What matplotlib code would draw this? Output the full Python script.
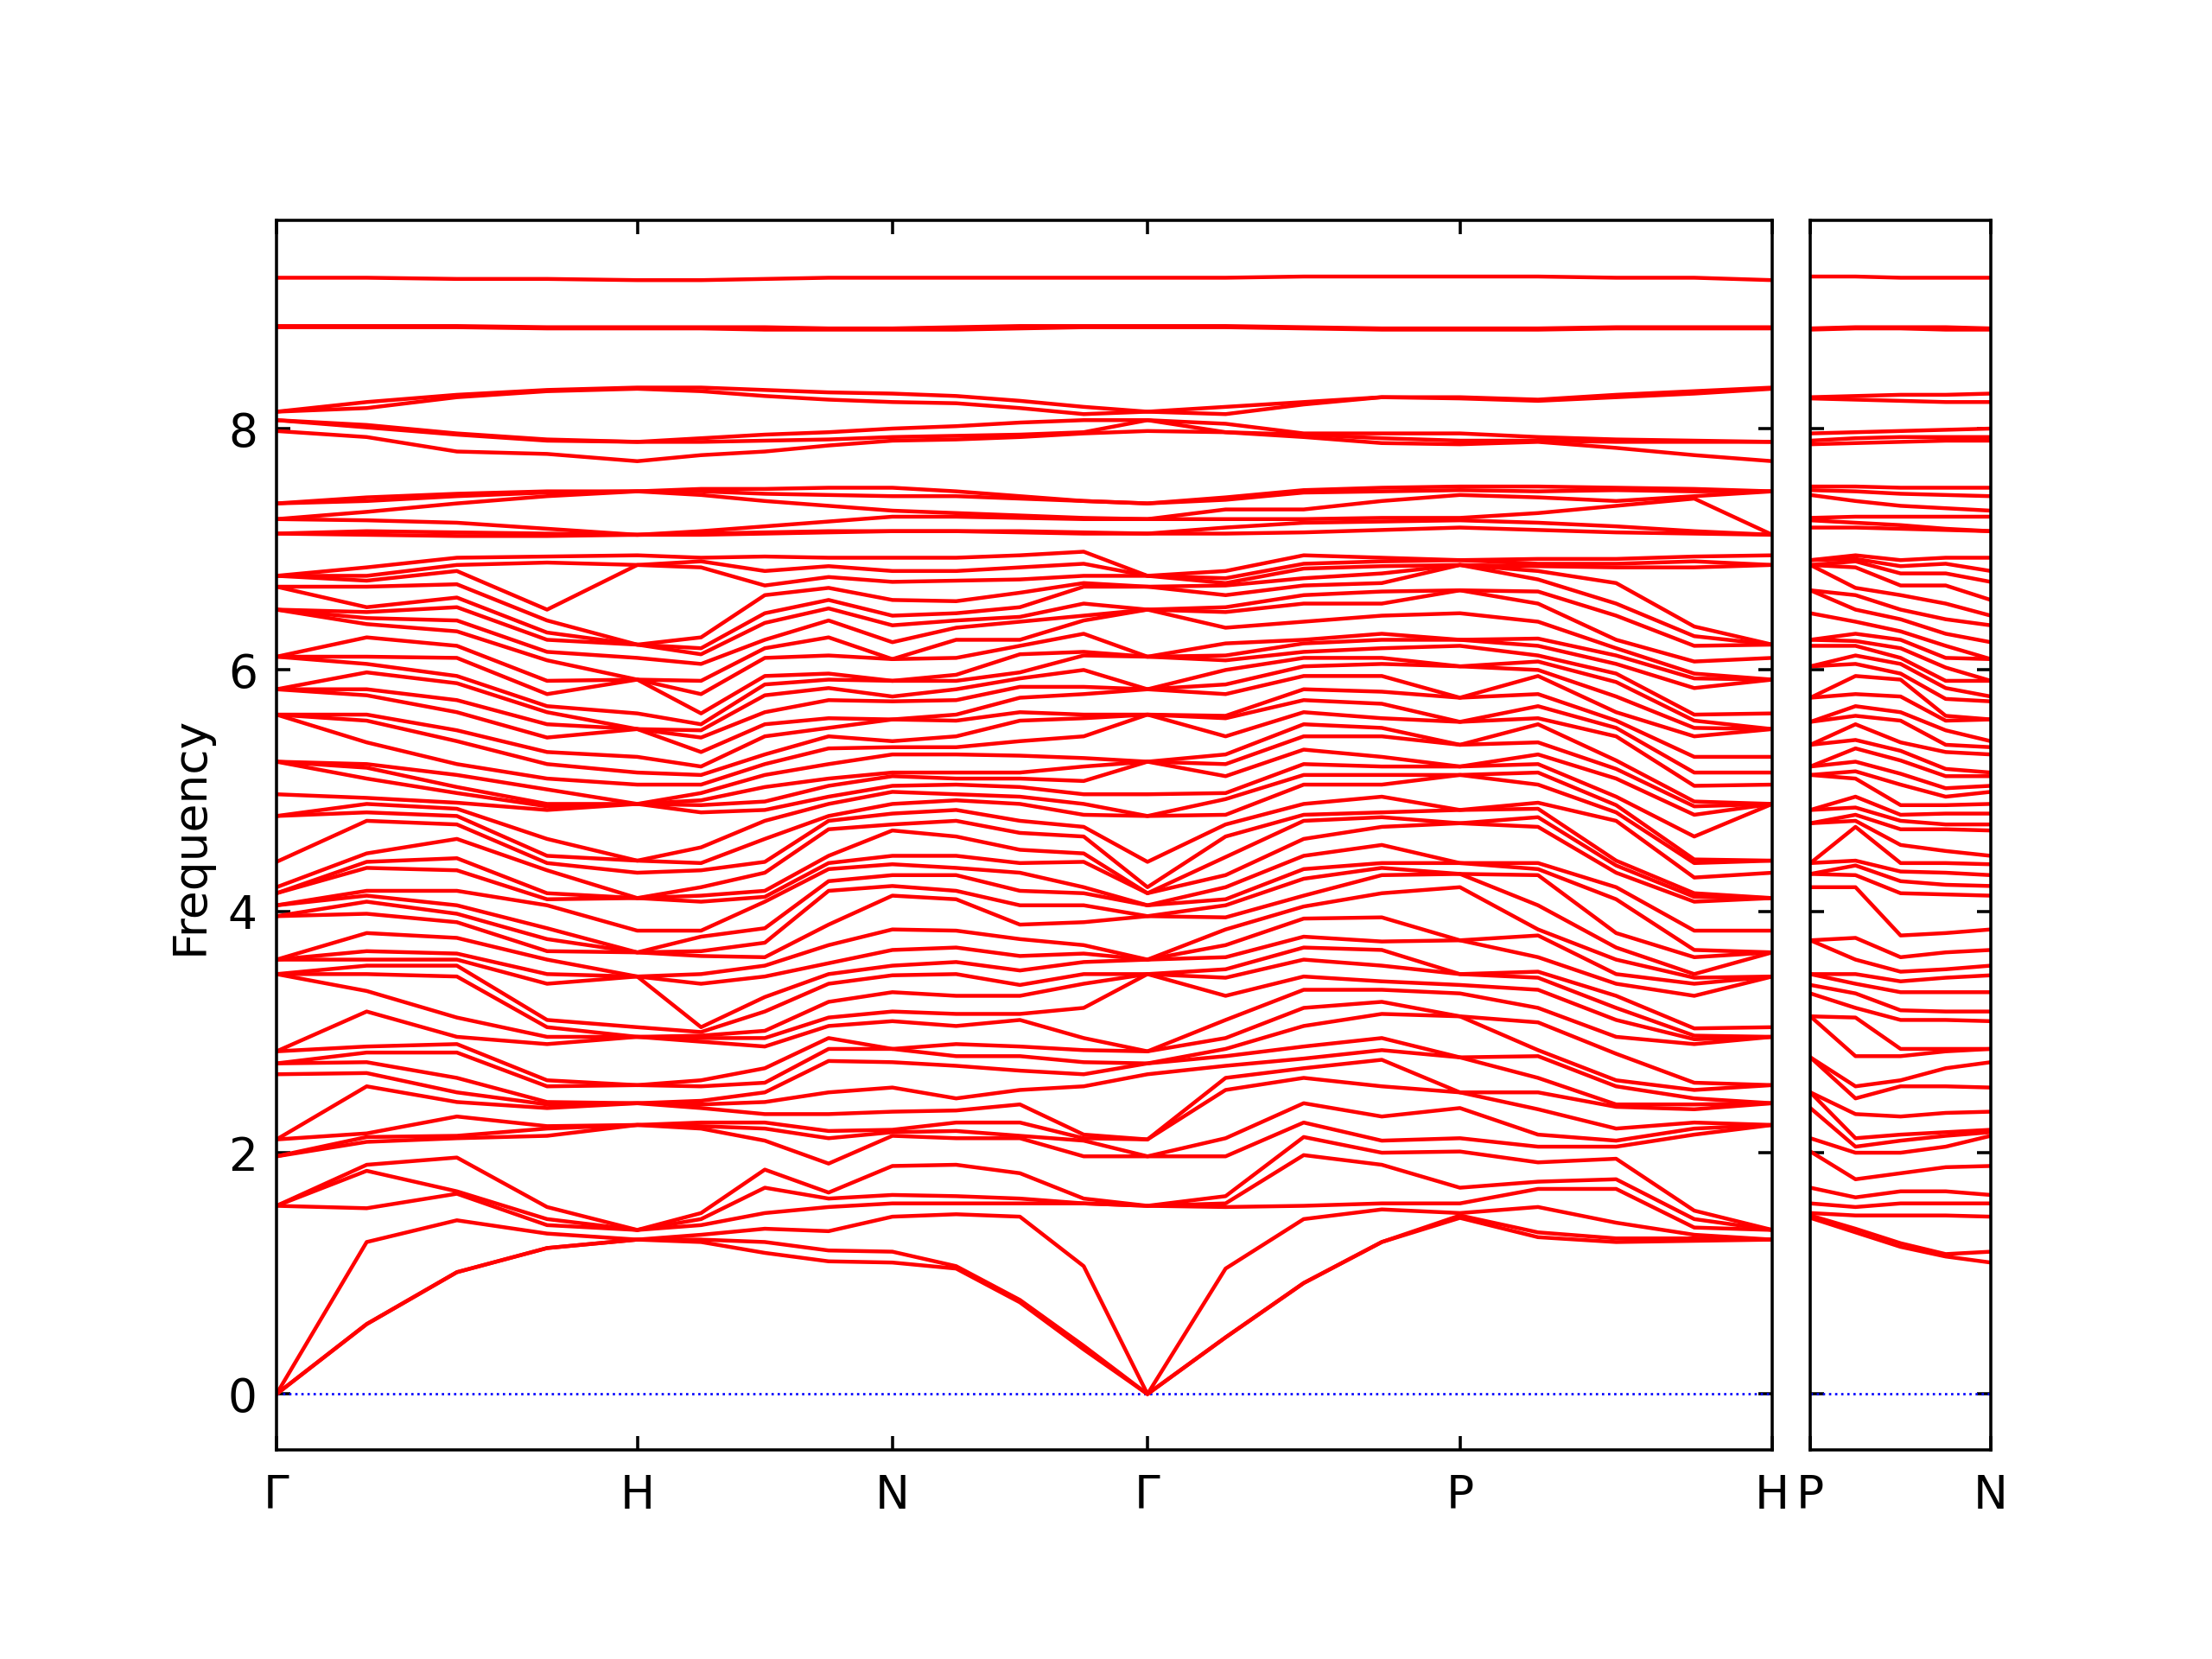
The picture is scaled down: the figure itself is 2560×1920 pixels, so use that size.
import numpy as np
import matplotlib
matplotlib.use("Agg")
import matplotlib.pyplot as plt

# phonon bands: sorted frequencies read at 5 points per path segment
# (66 branches; lower 52 and upper 14 listed separately for each column)

G_pt = [0, 0, 0, 1.56, 1.56, 1.56, 1.97, 1.97, 2.11, 2.11, 2.65, 2.74, 2.74, 2.84, 2.84,
        3.48, 3.48, 3.48, 3.60, 3.60, 3.60, 3.96, 3.96, 4.05, 4.05, 4.15, 4.15, 4.20, 4.41,
        4.79, 4.79, 4.97, 5.24, 5.24, 5.24, 5.63, 5.63, 5.63, 5.84, 5.84, 5.84, 6.11, 6.11, 6.11,
        6.50, 6.50, 6.50, 6.69, 6.69, 6.78, 6.78, 6.78] + \
       [7.13, 7.13, 7.25, 7.25, 7.38, 7.38, 7.98, 8.07, 8.07, 8.14, 8.14, 8.84, 8.85, 9.25]

H_pt = [1.28, 1.28, 1.28, 1.36, 1.36, 1.36, 2.23, 2.23, 2.23, 2.41, 2.41, 2.41, 2.56, 2.56,
        2.96, 2.96, 2.96, 3.04, 3.46, 3.46, 3.46, 3.66, 3.66, 3.66, 3.84, 4.11, 4.11, 4.11, 4.32,
        4.42, 4.42, 4.89, 4.89, 4.89, 4.89, 5.05, 5.15, 5.28, 5.51, 5.51, 5.51, 5.64, 5.92, 5.92,
        5.92, 6.10, 6.21, 6.21, 6.21, 6.87, 6.87, 6.95] + \
       [7.12, 7.12, 7.12, 7.48, 7.48, 7.48, 7.73, 7.89, 7.89, 8.33, 8.34, 8.83, 8.84, 9.23]

N_pt = [1.09, 1.18, 1.47, 1.58, 1.65, 1.89, 2.14, 2.17, 2.19, 2.34, 2.54, 2.75, 2.86, 2.86,
        3.09, 3.17, 3.33, 3.47, 3.55, 3.68, 3.85, 4.13, 4.21, 4.30, 4.39, 4.46, 4.67, 4.72, 4.81,
        4.89, 4.99, 5.04, 5.12, 5.15, 5.30, 5.36, 5.41, 5.59, 5.59, 5.74, 5.78, 5.91, 5.91, 6.09,
        6.09, 6.23, 6.37, 6.45, 6.58, 6.73, 6.82, 6.93] + \
       [7.15, 7.15, 7.27, 7.32, 7.44, 7.51, 7.90, 7.93, 8.00, 8.22, 8.29, 8.82, 8.83, 9.25]

P_pt = [1.46, 1.48, 1.50, 1.58, 1.71, 2.01, 2.12, 2.37, 2.50, 2.50, 2.79, 2.79,
        3.13, 3.13, 3.32, 3.39, 3.48, 3.48, 3.76, 3.76, 4.20, 4.31, 4.31, 4.40, 4.40, 4.73, 4.73,
        4.84, 4.84, 5.13, 5.13, 5.20, 5.20, 5.38, 5.38, 5.57, 5.57, 5.77, 5.77, 6.03, 6.03, 6.20,
        6.25, 6.25, 6.47, 6.66, 6.66, 6.87, 6.87, 6.87, 6.91, 6.91] + \
       [7.18, 7.24, 7.26, 7.45, 7.49, 7.52, 7.87, 7.90, 7.96, 8.25, 8.26, 8.82, 8.83, 9.26]

GH_mid = [
    [0.58, 0.58, 1.26, 1.54, 1.85, 1.90, 2.09, 2.13, 2.16, 2.55, 2.66, 2.75, 2.83, 2.88, 3.17, 3.34,
     3.48, 3.55, 3.60, 3.67, 3.82, 3.98, 4.08, 4.13, 4.17, 4.36, 4.41, 4.48, 4.75, 4.82, 4.89, 4.94,
     5.10, 5.19, 5.22, 5.40, 5.58, 5.63, 5.79, 5.84, 5.98, 6.05, 6.11, 6.27, 6.38, 6.43, 6.48, 6.52,
     6.69, 6.74, 6.78, 6.85] +
    [7.12, 7.15, 7.24, 7.31, 7.40, 7.43, 7.93, 8.01, 8.03, 8.17, 8.22, 8.84, 8.85, 9.25],
    [1.01, 1.01, 1.44, 1.66, 1.68, 1.96, 2.12, 2.14, 2.30, 2.42, 2.50, 2.62, 2.83, 2.90, 2.96,
     3.12, 3.46, 3.55, 3.60, 3.65, 3.78, 3.91, 3.98, 4.05, 4.17, 4.34, 4.44, 4.60, 4.72, 4.79,
     4.85, 4.90, 4.98, 5.03, 5.13, 5.22, 5.41, 5.50, 5.65, 5.75, 5.89, 5.95, 6.10, 6.20, 6.32,
     6.41, 6.52, 6.60, 6.71, 6.82, 6.87, 6.93] +
    [7.11, 7.14, 7.22, 7.38, 7.44, 7.46, 7.81, 7.95, 7.96, 8.26, 8.28, 8.84, 8.85, 9.24],
    [1.21, 1.21, 1.33, 1.40, 1.45, 1.55, 2.14, 2.20, 2.22, 2.37, 2.40, 2.42, 2.55, 2.60, 2.90,
     2.96, 3.04, 3.10, 3.40, 3.48, 3.60, 3.67, 3.77, 3.86, 4.05, 4.10, 4.15, 4.34, 4.40, 4.46,
     4.60, 4.84, 4.87, 4.89, 5.01, 5.10, 5.22, 5.32, 5.44, 5.55, 5.65, 5.70, 5.80, 5.91, 6.08,
     6.15, 6.25, 6.31, 6.41, 6.50, 6.89, 6.94] +
    [7.11, 7.13, 7.17, 7.44, 7.47, 7.48, 7.79, 7.90, 7.91, 8.31, 8.32, 8.83, 8.84, 9.24],
]

HN_mid = [
    [1.26, 1.28, 1.32, 1.40, 1.45, 1.50, 2.20, 2.22, 2.25, 2.37, 2.40, 2.43, 2.55, 2.60, 2.92,
     2.95, 2.97, 3.00, 3.04, 3.40, 3.48, 3.63, 3.67, 3.79, 3.84, 4.08, 4.13, 4.20, 4.34, 4.40,
     4.53, 4.82, 4.88, 4.92, 4.98, 5.05, 5.13, 5.20, 5.32, 5.44, 5.50, 5.55, 5.64, 5.80, 5.91,
     6.05, 6.13, 6.18, 6.27, 6.85, 6.90, 6.93] +
    [7.12, 7.13, 7.15, 7.45, 7.48, 7.50, 7.78, 7.89, 7.92, 8.31, 8.34, 8.83, 8.84, 9.23],
    [1.17, 1.26, 1.37, 1.50, 1.71, 1.86, 2.10, 2.20, 2.25, 2.32, 2.42, 2.50, 2.58, 2.70, 2.88,
     2.95, 3.01, 3.17, 3.29, 3.46, 3.55, 3.62, 3.74, 3.86, 4.08, 4.12, 4.17, 4.32, 4.41, 4.60,
     4.75, 4.84, 4.91, 5.03, 5.13, 5.22, 5.30, 5.45, 5.55, 5.65, 5.79, 5.88, 5.95, 6.10, 6.18,
     6.25, 6.39, 6.47, 6.62, 6.70, 6.82, 6.94] +
    [7.13, 7.14, 7.19, 7.40, 7.46, 7.50, 7.81, 7.90, 7.95, 8.27, 8.32, 8.82, 8.84, 9.24],
    [1.10, 1.19, 1.35, 1.55, 1.62, 1.67, 1.91, 2.12, 2.18, 2.32, 2.50, 2.76, 2.86, 2.95, 3.05,
     3.12, 3.25, 3.40, 3.48, 3.57, 3.72, 3.89, 4.17, 4.25, 4.35, 4.40, 4.46, 4.68, 4.75, 4.79,
     4.89, 4.95, 5.04, 5.10, 5.22, 5.35, 5.45, 5.52, 5.60, 5.75, 5.85, 5.92, 5.97, 6.12, 6.27,
     6.41, 6.51, 6.58, 6.68, 6.77, 6.86, 6.93] +
    [7.14, 7.15, 7.23, 7.36, 7.45, 7.51, 7.86, 7.91, 7.97, 8.24, 8.30, 8.82, 8.83, 9.25],
]

NG_mid = [
    [1.04, 1.06, 1.49, 1.58, 1.64, 1.90, 2.12, 2.18, 2.25, 2.35, 2.45, 2.72, 2.80, 2.90, 3.05,
     3.15, 3.30, 3.48, 3.58, 3.70, 3.84, 4.10, 4.17, 4.30, 4.36, 4.46, 4.62, 4.75, 4.84, 4.92,
     4.97, 5.05, 5.10, 5.15, 5.30, 5.36, 5.45, 5.58, 5.63, 5.75, 5.84, 5.91, 5.96, 6.10, 6.25,
     6.35, 6.41, 6.47, 6.57, 6.74, 6.82, 6.93] +
    [7.15, 7.15, 7.27, 7.30, 7.44, 7.48, 7.91, 7.94, 8.02, 8.21, 8.27, 8.82, 8.84, 9.25],
    [0.76, 0.78, 1.47, 1.58, 1.62, 1.83, 2.12, 2.14, 2.25, 2.40, 2.52, 2.68, 2.80, 2.88, 3.10,
     3.15, 3.30, 3.39, 3.51, 3.63, 3.77, 3.89, 4.05, 4.17, 4.32, 4.40, 4.51, 4.65, 4.75, 4.89,
     4.95, 5.03, 5.10, 5.15, 5.29, 5.41, 5.58, 5.65, 5.77, 5.86, 5.93, 5.98, 6.13, 6.20, 6.25,
     6.40, 6.44, 6.52, 6.64, 6.75, 6.85, 6.95] +
    [7.14, 7.15, 7.26, 7.28, 7.42, 7.44, 7.93, 7.95, 8.05, 8.17, 8.23, 8.83, 8.85, 9.25],
    [0.37, 0.40, 1.06, 1.58, 1.58, 1.62, 1.97, 2.10, 2.12, 2.15, 2.55, 2.65, 2.75, 2.85, 2.95,
     3.20, 3.40, 3.48, 3.58, 3.65, 3.72, 3.91, 4.05, 4.15, 4.20, 4.41, 4.48, 4.62, 4.70, 4.80,
     4.89, 4.97, 5.08, 5.20, 5.27, 5.45, 5.60, 5.63, 5.80, 5.86, 6.00, 6.12, 6.15, 6.30, 6.41,
     6.45, 6.55, 6.69, 6.72, 6.78, 6.88, 6.98] +
    [7.13, 7.14, 7.25, 7.26, 7.40, 7.40, 7.96, 7.97, 8.07, 8.12, 8.18, 8.84, 8.85, 9.25],
]

GP_mid = [
    [0.47, 0.47, 1.04, 1.55, 1.58, 1.64, 1.97, 2.12, 2.52, 2.62, 2.72, 2.80, 2.86, 2.95, 3.10,
     3.30, 3.45, 3.52, 3.62, 3.72, 3.85, 3.95, 4.05, 4.10, 4.20, 4.30, 4.45, 4.62, 4.72, 4.80,
     4.93, 4.98, 5.12, 5.22, 5.30, 5.45, 5.60, 5.62, 5.80, 5.88, 6.00, 6.08, 6.12, 6.22, 6.35,
     6.48, 6.52, 6.62, 6.70, 6.72, 6.76, 6.82] +
    [7.13, 7.18, 7.25, 7.33, 7.41, 7.43, 7.97, 7.97, 8.04, 8.12, 8.18, 8.84, 8.85, 9.25],
    [0.92, 0.92, 1.45, 1.56, 1.98, 2.13, 2.25, 2.41, 2.62, 2.70, 2.78, 2.88, 3.05, 3.20, 3.35,
     3.46, 3.60, 3.70, 3.79, 3.94, 4.04, 4.13, 4.27, 4.35, 4.46, 4.60, 4.75, 4.80, 4.89, 5.05,
     5.13, 5.22, 5.34, 5.45, 5.55, 5.65, 5.75, 5.84, 5.95, 6.03, 6.10, 6.15, 6.22, 6.25, 6.40,
     6.55, 6.62, 6.70, 6.76, 6.84, 6.88, 6.95] +
    [7.14, 7.22, 7.25, 7.33, 7.47, 7.49, 7.93, 7.95, 7.96, 8.20, 8.22, 8.83, 8.84, 9.26],
    [1.26, 1.26, 1.53, 1.58, 1.90, 2.00, 2.10, 2.30, 2.55, 2.77, 2.85, 2.95, 3.15, 3.25, 3.35,
     3.42, 3.55, 3.68, 3.75, 3.95, 4.15, 4.30, 4.36, 4.40, 4.55, 4.70, 4.78, 4.82, 4.95, 5.05,
     5.13, 5.20, 5.28, 5.45, 5.52, 5.60, 5.72, 5.82, 5.95, 6.05, 6.10, 6.18, 6.25, 6.30, 6.45,
     6.55, 6.65, 6.72, 6.80, 6.86, 6.90, 6.93] +
    [7.16, 7.23, 7.26, 7.40, 7.48, 7.51, 7.88, 7.92, 7.96, 8.26, 8.26, 8.82, 8.83, 9.26],
]

PH_mid = [
    [1.30, 1.34, 1.55, 1.70, 1.76, 1.92, 2.05, 2.15, 2.36, 2.50, 2.62, 2.80, 2.85, 3.08, 3.20,
     3.35, 3.45, 3.50, 3.62, 3.80, 3.85, 4.05, 4.30, 4.35, 4.40, 4.70, 4.78, 4.85, 4.90, 5.05,
     5.15, 5.22, 5.30, 5.40, 5.55, 5.60, 5.70, 5.80, 5.95, 6.00, 6.07, 6.12, 6.20, 6.26, 6.40,
     6.55, 6.65, 6.75, 6.82, 6.86, 6.88, 6.92] +
    [7.16, 7.22, 7.30, 7.43, 7.48, 7.52, 7.89, 7.90, 7.93, 8.23, 8.24, 8.82, 8.83, 9.26],
    [1.26, 1.29, 1.42, 1.70, 1.78, 1.95, 2.05, 2.10, 2.20, 2.38, 2.40, 2.55, 2.60, 2.82, 2.96,
     3.10, 3.20, 3.30, 3.40, 3.48, 3.60, 3.70, 3.82, 4.10, 4.20, 4.32, 4.38, 4.42, 4.75, 4.82,
     4.88, 4.95, 5.10, 5.18, 5.25, 5.45, 5.52, 5.58, 5.65, 5.78, 5.90, 5.97, 6.05, 6.12, 6.18,
     6.25, 6.45, 6.55, 6.72, 6.85, 6.88, 6.92] +
    [7.14, 7.19, 7.36, 7.40, 7.49, 7.51, 7.84, 7.89, 7.91, 8.26, 8.28, 8.83, 8.84, 9.25],
    [1.27, 1.29, 1.32, 1.38, 1.45, 1.52, 2.15, 2.20, 2.25, 2.36, 2.40, 2.45, 2.52, 2.58, 2.90,
     2.94, 2.97, 3.03, 3.30, 3.40, 3.45, 3.48, 3.62, 3.68, 3.84, 4.08, 4.12, 4.15, 4.28, 4.40,
     4.43, 4.62, 4.80, 4.87, 4.91, 5.04, 5.15, 5.28, 5.45, 5.52, 5.58, 5.63, 5.85, 5.93, 5.97,
     6.07, 6.20, 6.28, 6.36, 6.85, 6.90, 6.94] +
    [7.13, 7.15, 7.42, 7.44, 7.48, 7.50, 7.78, 7.89, 7.90, 8.29, 8.31, 8.83, 8.84, 9.25],
]

PN_mid = [
    [1.34, 1.37, 1.48, 1.55, 1.63, 1.78, 2.00, 2.05, 2.12, 2.32, 2.45, 2.55, 2.80, 3.12, 3.20,
     3.32, 3.40, 3.48, 3.60, 3.78, 4.20, 4.30, 4.38, 4.42, 4.70, 4.75, 4.80, 4.86, 4.95, 5.10,
     5.16, 5.24, 5.35, 5.42, 5.55, 5.62, 5.70, 5.80, 5.95, 6.05, 6.12, 6.20, 6.24, 6.30, 6.40,
     6.50, 6.62, 6.68, 6.85, 6.90, 6.92, 6.95] +
    [7.18, 7.22, 7.27, 7.40, 7.48, 7.52, 7.88, 7.92, 7.97, 8.24, 8.27, 8.83, 8.84, 9.26],
    [1.22, 1.25, 1.48, 1.58, 1.68, 1.83, 2.00, 2.10, 2.15, 2.30, 2.55, 2.60, 2.80, 2.86, 3.10,
     3.18, 3.33, 3.42, 3.50, 3.62, 3.80, 4.15, 4.25, 4.33, 4.40, 4.55, 4.68, 4.75, 4.80, 4.88,
     5.05, 5.14, 5.25, 5.33, 5.40, 5.58, 5.65, 5.78, 5.92, 5.97, 6.05, 6.10, 6.18, 6.25, 6.32,
     6.42, 6.50, 6.62, 6.70, 6.80, 6.86, 6.91] +
    [7.17, 7.20, 7.27, 7.36, 7.46, 7.51, 7.89, 7.93, 7.98, 8.23, 8.28, 8.83, 8.84, 9.25],
    [1.14, 1.16, 1.48, 1.58, 1.68, 1.88, 2.05, 2.14, 2.17, 2.33, 2.55, 2.70, 2.84, 2.86, 3.10,
     3.17, 3.33, 3.45, 3.52, 3.66, 3.82, 4.14, 4.22, 4.32, 4.40, 4.50, 4.68, 4.72, 4.81, 4.88,
     4.95, 5.02, 5.12, 5.18, 5.32, 5.38, 5.50, 5.58, 5.62, 5.76, 5.85, 5.91, 6.02, 6.10, 6.20,
     6.30, 6.42, 6.55, 6.70, 6.80, 6.88, 6.93] +
    [7.16, 7.17, 7.27, 7.34, 7.45, 7.51, 7.90, 7.93, 7.99, 8.22, 8.28, 8.82, 8.84, 9.25],
]

# path segments (bcc, units of 2pi/a)
seg_len = [1.0, np.sqrt(2) / 2, np.sqrt(2) / 2, np.sqrt(3) / 2, np.sqrt(3) / 2]
seg_len_pn = 0.5
labels_main = ["Γ", "H", "N", "Γ", "P", "H"]
labels_pn = ["P", "N"]

main_cols = [G_pt] + GH_mid + [H_pt] + HN_mid + [N_pt] + NG_mid + [G_pt] + GP_mid + \
            [P_pt] + PH_mid + [H_pt]
pn_cols = [P_pt] + PN_mid + [N_pt]

bands_main = np.array([np.sort(c) for c in main_cols])   # (21, nbands)
bands_pn = np.array([np.sort(c) for c in pn_cols])       # (5, nbands)

ticks_main = np.concatenate([[0], np.cumsum(seg_len)])
x_main = np.concatenate([np.linspace(ticks_main[i], ticks_main[i + 1], 5)[(0 if i == 0 else 1):]
                         for i in range(len(seg_len))])
x_pn = np.linspace(0, seg_len_pn, 5)

fmin = min(bands_main.min(), bands_pn.min())
fmax = max(bands_main.max(), bands_pn.max())
pad = 0.05 * (fmax - fmin)

fig = plt.figure(figsize=(8, 6), dpi=320)
gs = fig.add_gridspec(1, 2, width_ratios=[ticks_main[-1], seg_len_pn], wspace=0.0454,
                      left=0.125, right=0.9, bottom=0.126, top=0.867)
ax1 = fig.add_subplot(gs[0])
ax2 = fig.add_subplot(gs[1])

for ax, x, bands, ticks, labs in [(ax1, x_main, bands_main, ticks_main, labels_main),
                                  (ax2, x_pn, bands_pn, [0, seg_len_pn], labels_pn)]:
    ax.axhline(0, color="blue", ls=":", lw=0.6)
    for i in range(bands.shape[1]):
        ax.plot(x, bands[:, i], color="red", lw=1.0)
    ax.set_xlim(ticks[0], ticks[-1])
    ax.set_ylim(fmin - pad, fmax + pad)
    ax.set_xticks(ticks)
    ax.set_xticklabels(labs)
    ax.set_yticks([0, 2, 4, 6, 8])
    ax.tick_params(direction="in", top=True, right=True, labelsize=12)
    ax.tick_params(axis="x", pad=6)
    ax.tick_params(axis="y", pad=5)

ax2.set_yticklabels([])
ax1.set_ylabel("Frequency", fontsize=12, labelpad=4)

fig.savefig("out.png", dpi=320)
